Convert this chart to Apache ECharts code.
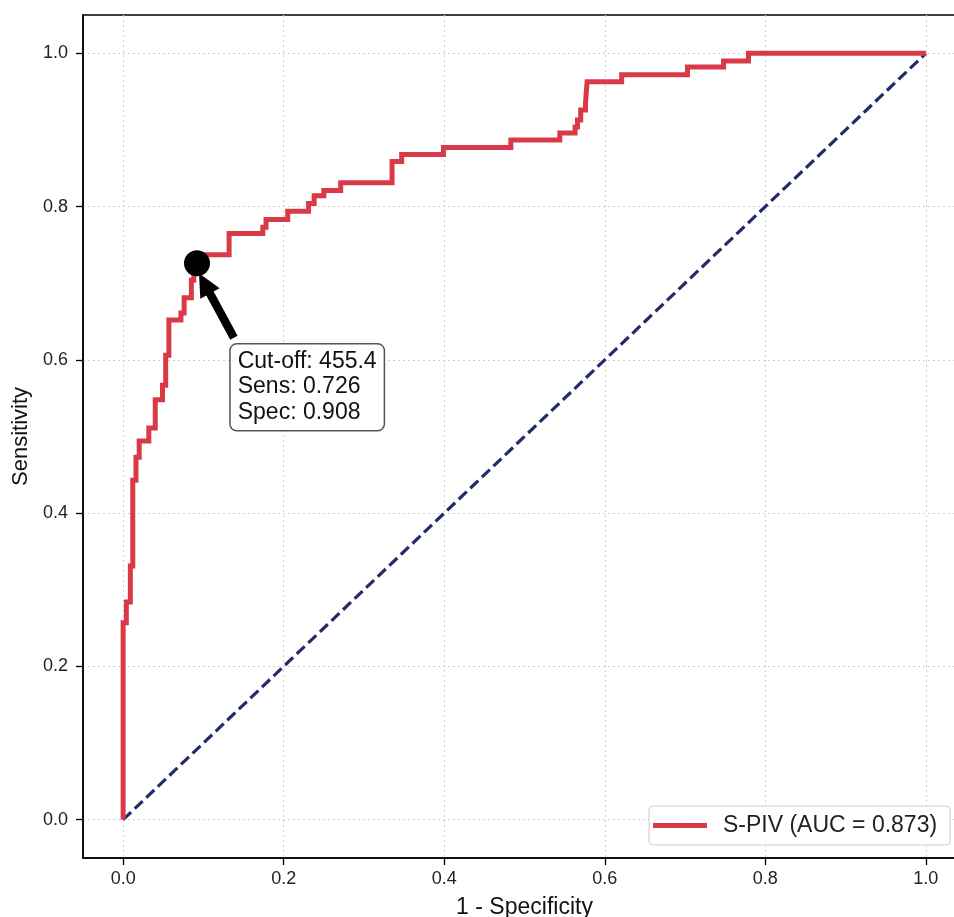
<!DOCTYPE html>
<html>
<head>
<meta charset="utf-8">
<script src="https://cdn.jsdelivr.net/npm/echarts@6/dist/echarts.min.js"></script>
<style>
  html, body { margin: 0; padding: 0; background: #fff; overflow: hidden; }
  #chart { width: 1000px; height: 917px; }
</style>
</head>
<body>
<div id="chart"></div>
<script>
// ROC curve of S-PIV: false positive rate (1 - specificity) and sensitivity at each step corner
const fpr = [0, 0, 0.004, 0.009, 0.012, 0.016, 0.020, 0.032, 0.040, 0.049,
             0.053, 0.057, 0.072, 0.076, 0.085, 0.088, 0.092, 0.098, 0.132, 0.174,
             0.178, 0.205, 0.231, 0.238, 0.250, 0.271, 0.335, 0.347, 0.399, 0.483,
             0.544, 0.563, 0.566, 0.570, 0.576, 0.578, 0.621, 0.703, 0.748, 0.779, 1.0];
const tpr = [0, 0.257, 0.284, 0.331, 0.443, 0.473, 0.494, 0.511, 0.548, 0.567,
             0.606, 0.652, 0.661, 0.681, 0.704, 0.720, 0.726, 0.737, 0.765, 0.773,
             0.783, 0.794, 0.804, 0.814, 0.821, 0.831, 0.859, 0.868, 0.877, 0.887,
             0.896, 0.904, 0.913, 0.926, 0.935, 0.963, 0.972, 0.982, 0.990, 1.0, 1.0];

// Chance line
const chanceFpr = [0, 1];
const chanceTpr = [0, 1];

// Axis ticks
const tickValues = [0, 0.2, 0.4, 0.6, 0.8, 1.0];

const seriesName = 'S-PIV (AUC = 0.873)';

// Optimal cut-off (Youden)
const cutOff = 455.4;
const cutSens = 0.726;
const cutSpec = 0.908;

// Annotation placement in data coordinates
const noteTopLeft = [0.134, 0.62];
const arrowTail = [0.138, 0.629];
const arrowTip = [0.0945, 0.713];

const FONT = "'Liberation Sans', Arial, Helvetica, sans-serif";

const rocData = fpr.map((x, i) => [x, tpr[i]]);
const chanceData = chanceFpr.map((x, i) => [x, chanceTpr[i]]);

const chart = echarts.init(document.getElementById('chart'), null, { renderer: 'canvas' });

const axisCommon = {
  type: 'value',
  min: -0.05,
  max: 1.05,
  axisLine: { show: true, onZero: false, lineStyle: { color: '#000', width: 1.5 } },
  axisTick: { show: true, inside: false, length: 7, customValues: tickValues,
              lineStyle: { color: '#000', width: 1.3 } },
  axisLabel: { customValues: tickValues, color: '#222', fontSize: 18, fontFamily: FONT,
               formatter: v => v.toFixed(1) },
  splitLine: { show: true, lineStyle: { color: '#cfcfcf', type: [2, 3], width: 1 } },
  nameLocation: 'middle',
  nameTextStyle: { color: '#111', fontSize: 23, fontFamily: FONT }
};

chart.setOption({
  animation: false,
  backgroundColor: '#fff',
  grid: {
    left: 83, top: 15, width: 883, height: 843,
    outerBoundsMode: 'none',
    containLabel: false,
    show: true, borderColor: '#000', borderWidth: 1.5, backgroundColor: 'transparent'
  },
  xAxis: Object.assign({}, axisCommon, {
    name: '1 - Specificity',
    nameGap: 38,
    axisLabel: Object.assign({}, axisCommon.axisLabel, { margin: 12 })
  }),
  yAxis: Object.assign({}, axisCommon, {
    name: 'Sensitivity',
    nameGap: 47,
    nameTextStyle: { color: '#111', fontSize: 22, fontFamily: FONT },
    axisLabel: Object.assign({}, axisCommon.axisLabel, { margin: 15 })
  }),
  legend: {
    data: [seriesName],
    left: 649, top: 806,
    orient: 'vertical',
    icon: 'rect',
    itemWidth: 54, itemHeight: 5,
    padding: [8, 13, 8, 4],
    borderColor: '#cccccc', borderWidth: 1, borderRadius: 4,
    backgroundColor: 'rgba(255,255,255,0.85)',
    selectedMode: false,
    textStyle: { color: '#222', fontSize: 23, fontFamily: FONT, padding: [0, 0, 0, 11] }
  },
  series: [
    {
      name: 'Chance',
      type: 'line',
      data: chanceData,
      showSymbol: false,
      silent: true,
      lineStyle: { color: '#232b6b', width: 3.2, type: [11, 5] },
      z: 2
    },
    {
      name: seriesName,
      type: 'line',
      data: rocData,
      step: 'end',
      showSymbol: false,
      silent: true,
      lineStyle: { color: '#d93a47', width: 5, join: 'miter', cap: 'butt' },
      itemStyle: { color: '#d93a47' },
      z: 3
    },
    {
      name: 'Cut-off',
      type: 'scatter',
      data: [[1 - cutSpec, cutSens]],
      symbol: 'circle',
      symbolSize: 26,
      silent: true,
      itemStyle: { color: '#000', opacity: 1 },
      z: 5
    }
  ]
});

// Arrow and label box for the cut-off annotation
const tail = chart.convertToPixel({ gridIndex: 0 }, arrowTail);
const tip = chart.convertToPixel({ gridIndex: 0 }, arrowTip);
const box = chart.convertToPixel({ gridIndex: 0 }, noteTopLeft);

const dx = tip[0] - tail[0], dy = tip[1] - tail[1];
const len = Math.hypot(dx, dy);
const ux = dx / len, uy = dy / len;
const nx = -uy, ny = ux;
const headLen = 23, headHalf = 11, shaftHalf = 4.2;
const bx = tip[0] - ux * headLen, by = tip[1] - uy * headLen;
const arrowPts = [
  [tail[0] + nx * shaftHalf, tail[1] + ny * shaftHalf],
  [bx + nx * shaftHalf, by + ny * shaftHalf],
  [bx + nx * headHalf, by + ny * headHalf],
  [tip[0], tip[1]],
  [bx - nx * headHalf, by - ny * headHalf],
  [bx - nx * shaftHalf, by - ny * shaftHalf],
  [tail[0] - nx * shaftHalf, tail[1] - ny * shaftHalf]
];

chart.setOption({
  graphic: [
    {
      type: 'polygon',
      shape: { points: arrowPts },
      style: { fill: '#000' },
      silent: true,
      z: 10
    },
    {
      type: 'text',
      x: box[0],
      y: box[1],
      silent: true,
      z: 11,
      style: {
        text: 'Cut-off: ' + cutOff.toFixed(1) + '\nSens: ' + cutSens.toFixed(3) + '\nSpec: ' + cutSpec.toFixed(3),
        font: '23px ' + FONT,
        fill: '#111',
        lineHeight: 25.5,
        backgroundColor: '#fff',
        borderColor: '#555',
        borderWidth: 1.5,
        borderRadius: 6,
        padding: [4, 7, 5, 7]
      }
    }
  ]
});
</script>
</body>
</html>
